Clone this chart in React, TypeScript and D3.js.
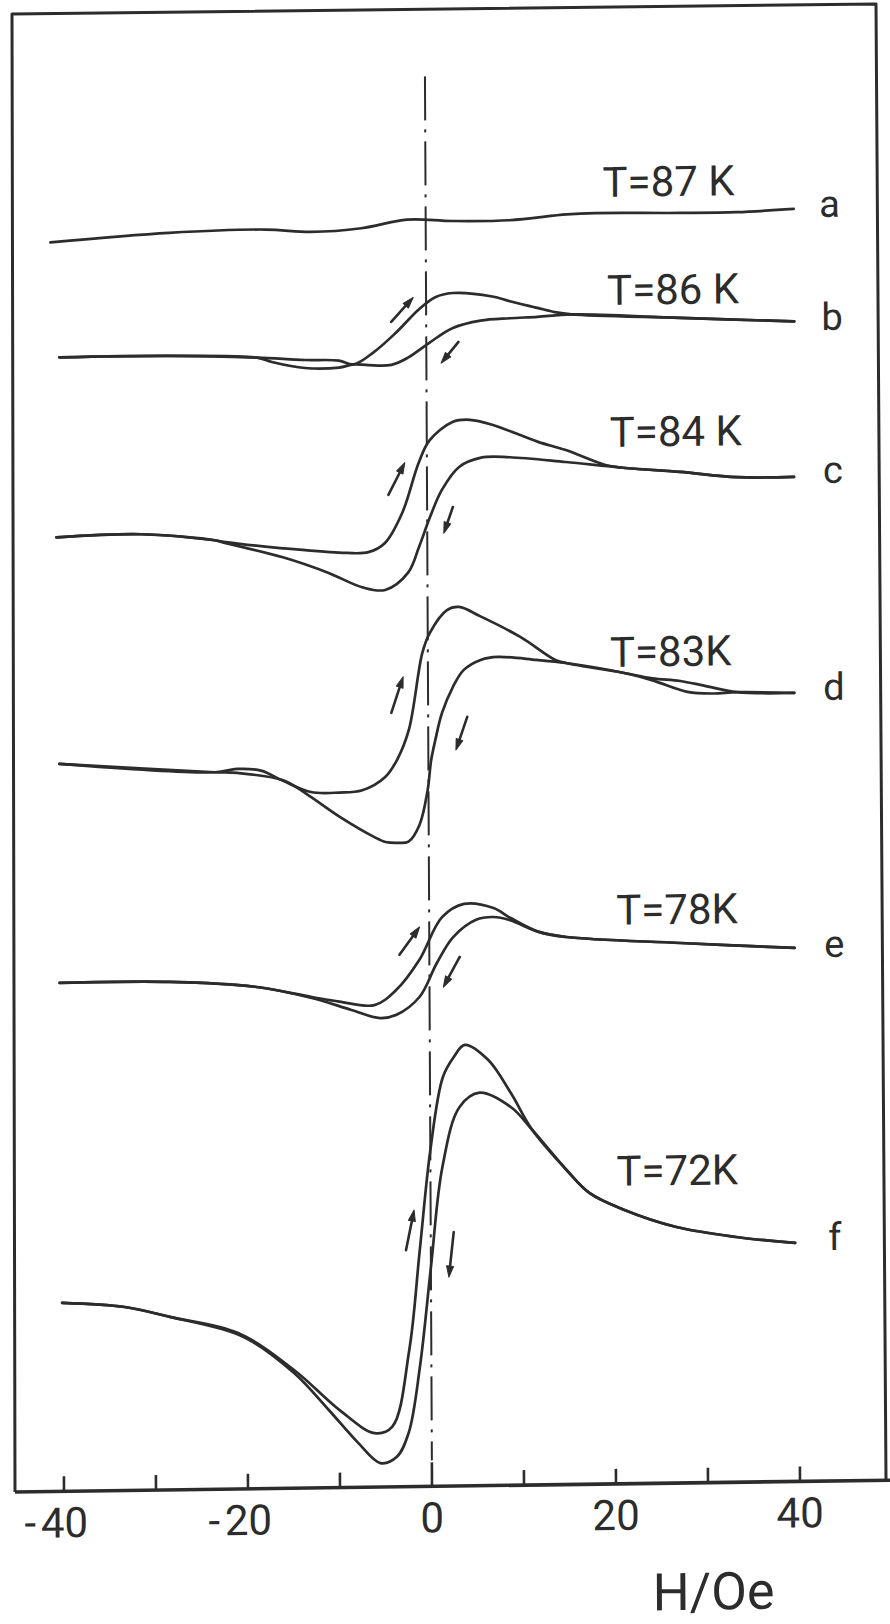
import React from "react";
import * as d3 from "d3";

type Pt = [number, number];

// ---------- data (H in Oe, signal in arbitrary stacked units) ----------
const xTicks = [-40, -30, -20, -10, 0, 10, 20, 30, 40];
const xTickLabels = [-40, -20, 0, 20, 40];
const curveLetters = ["a", "b", "c", "d", "e", "f"];
const tempLabels = ["T=87 K", "T=86 K", "T=84 K", "T=83K", "T=78K", "T=72K"];

const curveA: Pt[] = [[-40.8,124.9],[-27.9,125.7],[-17.4,125.9],[-12.5,125.6],[-7.0,125.9],[-2.0,126.7],[2.9,126.5],[9.1,126.5],[15.3,127.0],[18.4,127.1],[27.6,127.0],[33.8,127.0],[40.0,127.25]];

const curveBUp: Pt[] = [[-39.9,113.4],[-28.0,113.4],[-18.4,113.1],[-13.2,112.8],[-9.5,112.7],[-7.9,112.3],[-5.7,113.5],[-3.3,115.4],[-0.8,117.7],[1.0,118.9],[2.9,119.3],[7.2,118.9],[9.1,118.4],[12.1,117.7],[14.0,117.25],[15.8,117.0],[27.6,116.5],[40.0,116.0]];
const curveBDown: Pt[] = [[-39.9,113.4],[-28.0,113.4],[-18.4,113.1],[-16.8,112.65],[-13.2,112.0],[-9.5,112.0],[-7.9,112.3],[-6.3,112.2],[-3.8,112.2],[-2.0,112.9],[0.4,114.4],[2.9,115.8],[5.9,116.5],[9.1,116.7],[12.1,116.8],[15.8,117.0],[27.6,116.5],[40.0,116.0]];

const curveCUp: Pt[] = [[-40.3,95.4],[-31.1,95.6],[-23.1,94.9],[-21.9,94.7],[-15.7,94.0],[-9.6,93.5],[-6.4,93.5],[-4.6,94.4],[-2.7,97.4],[-0.9,102.35],[0.3,104.6],[2.8,106.4],[4.7,106.6],[7.2,106.05],[12.1,104.3],[15.1,103.45],[19.4,101.9],[21.3,101.6],[27.5,101.1],[33.7,100.5],[39.9,100.45]];
const curveCDown: Pt[] = [[-40.3,95.4],[-31.1,95.6],[-23.1,94.9],[-21.9,94.6],[-15.7,93.1],[-10.8,91.5],[-7.1,90.0],[-4.6,89.7],[-2.1,91.4],[-0.9,93.95],[0.3,96.9],[1.6,99.6],[3.5,101.9],[5.9,102.8],[9.0,102.8],[15.1,102.25],[21.3,101.6],[27.5,101.1],[33.7,100.5],[39.9,100.45]];

const curveDUp: Pt[] = [[-40.1,72.75],[-23.2,71.7],[-20.8,72.0],[-18.2,71.8],[-15.8,70.75],[-12.8,69.6],[-9.7,69.5],[-7.2,69.7],[-4.7,71.0],[-3.4,72.7],[-2.1,75.7],[-0.6,83.35],[0.2,85.3],[2.1,87.6],[3.4,87.9],[5.8,86.9],[10.1,84.8],[13.8,82.5],[15.0,82.15],[21.2,81.1],[24.4,80.5],[27.4,80.2],[30.0,79.7],[33.6,79.0],[39.8,78.85]];
const curveDDown: Pt[] = [[-40.1,72.75],[-23.2,71.7],[-20.8,71.6],[-15.8,70.8],[-13.4,69.5],[-9.7,67.1],[-5.9,65.0],[-4.7,64.5],[-3.5,64.4],[-2.2,64.5],[-1.0,66.15],[-0.1,69.6],[0.3,72.6],[0.76,74.6],[1.5,77.3],[2.7,79.9],[3.9,81.6],[5.8,82.6],[7.6,82.85],[11.8,82.5],[15.0,82.15],[21.2,81.1],[24.4,80.3],[28.2,79.1],[31.0,78.9],[33.6,79.0],[39.8,78.85]];

const curveEUp: Pt[] = [[-40.2,50.85],[-28.3,50.8],[-19.0,50.2],[-12.8,49.1],[-9.8,48.6],[-6.0,48.2],[-3.6,49.7],[-1.1,52.65],[1.4,56.9],[3.8,58.2],[7.0,57.75],[8.8,56.75],[11.9,55.3],[14.9,54.75],[27.3,54.0],[39.7,53.35]];
const curveEDown: Pt[] = [[-40.2,50.85],[-28.3,50.8],[-19.0,50.2],[-12.8,49.0],[-8.5,47.75],[-5.4,46.9],[-3.6,47.2],[-1.1,48.95],[0.8,52.3],[2.6,54.9],[5.1,56.6],[7.0,56.85],[8.8,56.5],[11.9,55.3],[14.9,54.75],[27.3,54.0],[39.7,53.35]];

const curveFUp: Pt[] = [[-40.1,18.85],[-33.3,18.35],[-28.4,17.3],[-21.0,15.6],[-14.9,11.8],[-10.0,7.75],[-6.2,5.4],[-4.3,6.0],[-2.4,13.65],[-1.2,23.65],[0.0,33.6],[1.4,40.9],[2.6,42.9],[3.8,44.1],[6.3,42.6],[8.8,39.2],[11.1,35.5],[14.8,31.45],[17.3,29.1],[21.0,27.4],[26.7,25.6],[33.4,24.5],[39.6,23.85]];
const curveFDown: Pt[] = [[-40.1,18.85],[-33.3,18.35],[-28.4,17.3],[-20.4,15.2],[-14.9,11.5],[-11.2,7.8],[-8.0,4.45],[-5.6,2.4],[-3.8,3.0],[-2.5,5.4],[-1.25,11.95],[0.0,21.9],[1.3,31.9],[3.2,37.9],[5.4,39.3],[8.8,37.8],[11.1,35.5],[14.8,31.45],[17.3,29.1],[21.0,27.4],[26.7,25.6],[33.4,24.5],[39.6,23.85]];

// sweep-direction arrows: [from, to]
const sweepArrows: [Pt, Pt][] = [
  [[-3.8,116.5],[-1.4,118.9]], [[3.5,114.4],[1.6,112.3]],
  [[-4.2,99.2],[-2.4,102.4]], [[2.8,97.9],[1.8,95.3]],
  [[-4.0,77.4],[-2.7,81.0]], [[4.25,76.9],[3.0,73.6]],
  [[-3.25,53.2],[-1.05,55.95]], [[3.3,52.9],[1.5,49.9]],
  [[-2.7,23.65],[-1.8,27.65]], [[2.5,25.4],[1.95,20.9]],
];

// ---------- layout ----------
const W = 890, H = 1624;
const INK = "#2c2c2c";
const FONT = "Roboto, 'DejaVu Sans', Arial, sans-serif";
const tempLabelPos: Pt[] = [[609,205],[613,313],[615,455],[614,675],[619,933],[618,1194]];
const letterPos: Pt[] = [[836,228],[838,341],[838,494],[838,711],[837,968],[836,1261]];

const x = d3.scaleLinear().domain([-40, 40]).range([64, 800]);
const y = d3.scaleLinear().domain([0, 147.8]).range([1492, 14]);
const axisY = 1492;

const line = d3.line<Pt>().x(d => x(d[0])).y(d => y(d[1])).curve(d3.curveCatmullRom.alpha(0.5));

const traces: Pt[][] = [curveA, curveBUp, curveBDown, curveCUp, curveCDown, curveDUp, curveDDown, curveEUp, curveEDown, curveFUp, curveFDown];

function Arrow({ from, to }: { from: Pt; to: Pt }) {
  const x1 = x(from[0]), y1 = y(from[1]), x2 = x(to[0]), y2 = y(to[1]);
  const ang = Math.atan2(y2 - y1, x2 - x1);
  const hl = 11, hw = 3.5;
  const bx = x2 - hl * Math.cos(ang), by = y2 - hl * Math.sin(ang);
  const px = -Math.sin(ang) * hw, py = Math.cos(ang) * hw;
  return (
    <g>
      <line x1={x1} y1={y1} x2={bx} y2={by} stroke={INK} strokeWidth={2.6} strokeLinecap="round" />
      <path d={`M${x2},${y2}L${bx + px},${by + py}L${bx - px},${by - py}Z`} fill={INK} stroke={INK} strokeWidth={1} strokeLinejoin="round" />
    </g>
  );
}

export default function App() {
  const skew = `matrix(1,-0.0135,0.005,1,${-0.005 * 1492},${0.0135 * 15})`;
  return (
    <svg width={W} height={H} style={{ position: "absolute", left: 0, top: 0, background: "#fff" }}>
      <rect x={0} y={0} width={W} height={H} fill="#fff" />
      {/* frame (scanned, slightly tilted) */}
      <path d="M15,1492 L12,14 L876,4 L886,1480" fill="none" stroke={INK} strokeWidth={3} strokeLinejoin="round" />
      <g transform={skew}>
        {/* bottom axis */}
        <line x1={15} y1={axisY} x2={890} y2={axisY} stroke={INK} strokeWidth={3.6} />
        {xTicks.map(t => (
          <line key={t} x1={x(t)} x2={x(t)} y1={axisY} y2={axisY - (t === 0 ? 24 : 15)} stroke={INK} strokeWidth={2.6} />
        ))}
        {xTickLabels.map(v => (
          <text key={v} x={x(v) + (v < 0 ? 24 : 0)} y={1538} textAnchor={v < 0 ? "end" : "middle"}
            fontFamily={FONT} fontSize={42} fill={INK}>
            {v < 0 ? <><tspan>-</tspan><tspan dx={5}>{Math.abs(v)}</tspan></> : String(v)}
          </text>
        ))}
        <text x={652} y={1619} fontFamily={FONT} fontSize={52} fill={INK}>H/Oe</text>

        {/* zero-field dash-dot line */}
        <line x1={x(0)} x2={x(0)} y1={82} y2={1466} stroke={INK} strokeWidth={2} strokeDasharray="44 9 3 9" />

        {/* traces */}
        {traces.map((tr, i) => (
          <path key={i} d={line(tr) || ""} fill="none" stroke={INK} strokeWidth={2.7} strokeLinejoin="round" strokeLinecap="round" />
        ))}
        {sweepArrows.map((a, i) => <Arrow key={i} from={a[0]} to={a[1]} />)}

        {/* labels */}
        {tempLabels.map((t, i) => (
          <text key={t} x={tempLabelPos[i][0]} y={tempLabelPos[i][1]} fontFamily={FONT} fontSize={42} fill={INK}>{t}</text>
        ))}
        {curveLetters.map((l, i) => (
          <text key={l} x={letterPos[i][0]} y={letterPos[i][1]} textAnchor="middle" fontFamily={FONT} fontSize={38} fill={INK}>{l}</text>
        ))}
      </g>
    </svg>
  );
}
